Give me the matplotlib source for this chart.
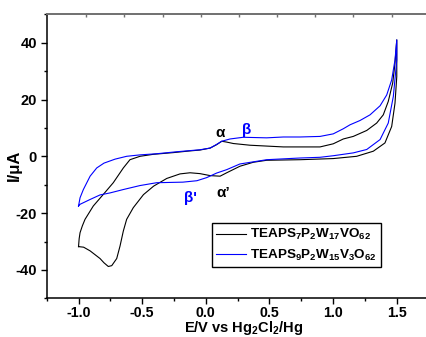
import numpy as np
import matplotlib
matplotlib.use("Agg")
import matplotlib.pyplot as plt

plt.rcParams['font.family'] = ['Liberation Sans', 'DejaVu Sans']
plt.rcParams['font.weight'] = 'bold'
plt.rcParams['mathtext.fontset'] = 'custom'
plt.rcParams['mathtext.rm'] = 'Liberation Sans:bold'
plt.rcParams['mathtext.it'] = 'Liberation Sans:bold'
plt.rcParams['mathtext.bf'] = 'Liberation Sans:bold'
plt.rcParams['mathtext.default'] = 'rm'

# ---- data ----
black_fwd_E = [-1.0, -0.995, -0.988, -0.97, -0.949, -0.884, -0.805, -0.727, -0.648, -0.596,
               -0.517, -0.412, -0.255, -0.124, -0.046, 0.034, 0.085, 0.125, 0.164, 0.216,
               0.347, 0.609, 0.897, 1.001, 1.080, 1.158, 1.264, 1.342, 1.394, 1.433,
               1.468, 1.486, 1.5]
black_fwd_I = [-31.8, -29.0, -26.9, -24.5, -22.2, -17.5, -13.4, -9.3, -4.1, -1.2,
               0.0, 0.7, 1.3, 1.9, 2.2, 2.9, 4.1, 5.3, 5.0, 4.5,
               3.9, 3.3, 3.3, 4.4, 6.1, 7.0, 9.1, 11.7, 14.6, 19.3,
               25.8, 32.8, 41.0]
black_rev_E = [1.5, 1.486, 1.460, 1.407, 1.316, 1.185, 1.001, 0.74, 0.478, 0.373,
               0.268, 0.164, 0.112, 0.034, -0.046, -0.124, -0.203, -0.307, -0.41, -0.49,
               -0.57, -0.622, -0.648, -0.674, -0.700, -0.739, -0.766, -0.80, -0.831, -0.909,
               -0.96, -1.0]
black_rev_I = [28.1, 18.7, 10.5, 4.7, 1.8, 0.0, -0.8, -1.2, -1.4, -2.1,
               -3.5, -5.8, -7.0, -6.8, -6.1, -5.8, -6.2, -7.8, -10.5, -13.5,
               -18.1, -22.2, -26.3, -31.6, -36.0, -38.5, -38.8, -37.5, -36.0, -33.3,
               -32.0, -31.8]

blue_fwd_E = [-1.0, -0.988, -0.962, -0.909, -0.857, -0.80, -0.713, -0.622, -0.517, -0.386,
              -0.229, -0.046, 0.034, 0.085, 0.125, 0.190, 0.294, 0.478, 0.609, 0.74,
              0.897, 1.001, 1.080, 1.133, 1.211, 1.290, 1.369, 1.421, 1.460, 1.486, 1.5]
blue_fwd_I = [-17.5, -14.6, -11.7, -7.0, -4.1, -2.4, -1.0, 0.0, 0.5, 0.9,
              1.6, 2.3, 2.9, 4.2, 5.3, 6.1, 6.7, 6.5, 6.8, 6.8,
              7.0, 7.9, 9.7, 11.1, 12.6, 14.6, 17.8, 21.6, 26.9, 33.9, 41.0]
blue_rev_E = [1.5, 1.473, 1.433, 1.369, 1.264, 1.158, 1.001, 0.897, 0.74, 0.478,
              0.268, 0.164, 0.085, 0.007, -0.07, -0.18, -0.386, -0.517, -0.648, -0.753,
              -0.831, -0.909, -0.988, -1.0]
blue_rev_I = [33.9, 21.1, 11.7, 5.9, 2.4, 1.2, 0.2, -0.35, -0.6, -1.2,
              -2.7, -4.7, -5.9, -7.5, -8.6, -9.1, -9.3, -10.3, -11.7, -12.9,
              -13.6, -15.2, -16.9, -17.5]

labels = [r'TEAPS$_7$P$_2$W$_{17}$VO$_{62}$', r'TEAPS$_9$P$_2$W$_{15}$V$_3$O$_{62}$']
x_ticks = [-1.0, -0.5, 0.0, 0.5, 1.0, 1.5]
y_ticks = [-40, -20, 0, 20, 40]

W, H = 427, 337
fig = plt.figure(figsize=(W / 100, H / 100), dpi=100)
ax = fig.add_axes([46.7 / W, (H - 298.3) / H, (428.6 - 46.7) / W, (298.3 - 14.3) / H])

ax.plot(black_fwd_E + black_rev_E, black_fwd_I + black_rev_I, color='black', lw=0.8, label=labels[0])
ax.plot(blue_fwd_E + blue_rev_E, blue_fwd_I + blue_rev_I, color='#0000ff', lw=0.8, label=labels[1])

ax.set_xlim(-1.25, 1.75)
ax.set_ylim(-50, 50)
ax.set_xticks(x_ticks)
ax.set_xticks([-1.25, -0.75, -0.25, 0.25, 0.75, 1.25], minor=True)
ax.set_yticks(y_ticks)
ax.set_yticks([-50, -30, -10, 10, 30, 50], minor=True)
ax.set_xticklabels([f'{v:.1f}' for v in x_ticks])
ax.set_yticklabels([str(v) for v in y_ticks])
ax.tick_params(which='major', direction='out', length=4, width=1, labelsize=10.5, pad=3)
ax.tick_params(axis='x', which='major', pad=1.5, labelsize=10.2)
ax.tick_params(which='minor', direction='out', length=2.5, width=1)
for lab in ax.get_xticklabels() + ax.get_yticklabels():
    lab.set_fontweight('bold')

ax.spines['right'].set_visible(False)
ax.spines['left'].set_linewidth(1.1)
ax.spines['bottom'].set_linewidth(1.1)
ax.spines['top'].set_color('#707070')
ax.spines['top'].set_linewidth(1.2)

# top axis ticks (different spacing, no labels)
tax = ax.twiny()
tax.set_xlim(ax.get_xlim())
tax.set_xticks(np.arange(-0.94, 1.75, 0.3))
tax.set_xticklabels([])
tax.tick_params(direction='in', length=2, width=1, color='#707070')
for s in ['right', 'left', 'bottom']:
    tax.spines[s].set_visible(False)
tax.spines['top'].set_color('#707070')
tax.spines['top'].set_linewidth(1.2)

# annotations
ax.text(0.112, 8.2, 'α', color='black', fontsize=11, fontweight='bold', ha='center', va='center')
ax.text(0.321, 9.4, 'β', color='#0000ff', fontsize=11, fontweight='bold', ha='center', va='center')
ax.text(-0.124, -14.6, "β'", color='#0000ff', fontsize=11, fontweight='bold', ha='center', va='center')
ax.text(0.135, -13.0, 'α’', color='black', fontsize=11, fontweight='bold', ha='center', va='center')

leg = ax.legend(loc='upper left', bbox_to_anchor=(212.3 / W, 1 - 223.3 / H),
                bbox_transform=fig.transFigure, fontsize=9.7, frameon=True, fancybox=False,
                edgecolor='black', framealpha=1, handlelength=2.2, handletextpad=0.3,
                borderpad=0.3, labelspacing=0.4, borderaxespad=0)
leg.get_frame().set_linewidth(1.0)

fig.text(14 / W, 1 - 165.7 / H, 'I/μA', rotation=90, ha='center', va='center',
         fontsize=12, fontweight='bold')
fig.text(244 / W, 1 - 319 / H, r'E/V vs Hg$_2$Cl$_2$/Hg', ha='center', va='top',
         fontsize=10.5, fontweight='bold')

fig.savefig('out.png', dpi=100)
